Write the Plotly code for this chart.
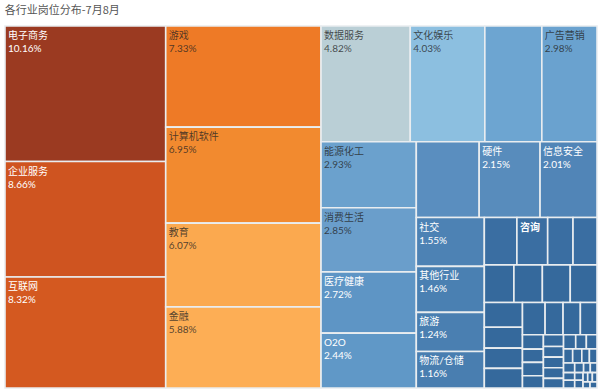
import plotly.graph_objects as go

# ---- data ----
industries = [
    "电子商务", "企业服务", "互联网", "游戏", "计算机软件", "教育", "金融",
    "数据服务", "文化娱乐", "行业A", "广告营销", "能源化工", "消费生活", "医疗健康", "O2O",
    "行业B", "硬件", "信息安全", "社交", "其他行业", "旅游", "物流/仓储",
]
shares = [
    10.16, 8.66, 8.32, 7.33, 6.95, 6.07, 5.88,
    4.82, 4.03, 3.08, 2.98, 2.93, 2.85, 2.72, 2.44,
    2.22, 2.15, 2.01, 1.55, 1.46, 1.24, 1.16,
]
# small industries (labels hidden in the reference except 咨询)
tail_names = ["行业C", "咨询"] + ["行业%d" % i for i in range(1, 44)]
tail_shares = [
    0.72, 0.68, 0.56, 0.53,
    0.52, 0.50, 0.49, 0.47, 0.44,
    0.37, 0.36, 0.35, 0.34,
    0.27, 0.26, 0.25,
    0.14, 0.13, 0.13, 0.12,
    0.11, 0.10, 0.10, 0.10,
    0.09, 0.08, 0.07, 0.07, 0.06, 0.06, 0.05, 0.05, 0.05,
    0.04, 0.04, 0.04, 0.03, 0.03, 0.03, 0.03,
    0.02, 0.02, 0.02, 0.02, 0.02,
]
tail_names = tail_names[:len(tail_shares)]
labeled_tail = {"咨询"}
hidden_main = {"行业A", "行业B"}

# ---- styles ----
main_colors = [
    "#9B3A21", "#CF5420", "#D45920", "#EE7A26", "#F28A2F", "#FBA94F", "#FDAE55",
    "#BACFD6", "#8CBFE0", "#6DA5D1", "#6AA2CF", "#6BA1CD", "#6A9ECB", "#5E95C5", "#6098C7",
    "#5A8EBF", "#588CBC", "#5185B7", "#4D82B4", "#4A80B2", "#4A7FB1", "#497EB0",
]
dark_text = {"游戏", "计算机软件", "教育", "金融", "数据服务", "文化娱乐", "广告营销", "能源化工", "消费生活"}

labels = industries + tail_names
values = shares + tail_shares
colors = main_colors + ["#3A6EA2"] * 4 + ["#35699C"] * (len(tail_shares) - 4)

templates = []
text_colors = []
for name in labels:
    if name in hidden_main or (name in tail_names and name not in labeled_tail):
        templates.append(" ")
    elif name in labeled_tail:
        templates.append("<b>%{label}</b>")
    else:
        templates.append("%{label}<br>%{value:.2f}%")
    text_colors.append("rgba(35,35,35,0.78)" if name in dark_text else "#ffffff")

fig = go.Figure(go.Treemap(
    labels=labels,
    parents=[""] * len(labels),
    values=values,
    sort=True,
    texttemplate=templates,
    textposition="top left",
    textfont=dict(family="Lato, 'Noto Sans CJK SC'", size=10, color=text_colors),
    marker=dict(colors=colors, line=dict(color="#e9edf0", width=1.6), pad=dict(t=0, l=0, r=0, b=0)),
    tiling=dict(packing="squarify", squarifyratio=1.618, pad=0),
    pathbar=dict(visible=False),
    hoverinfo="label+value",
))

fig.update_layout(
    width=600, height=392,
    margin=dict(l=5, r=3, t=26, b=4),
    paper_bgcolor="white",
    title=dict(text="各行业岗位分布-7月8月", x=0.008, xanchor="left", y=0.985, yanchor="top",
               font=dict(family="Noto Sans CJK SC", size=11, color="#555555")),
    uniformtext=dict(minsize=9, mode="hide"),
)

fig.write_html("out.html", config={"displayModeBar": False},
               post_script="document.body.style.margin='0';document.body.style.overflow='hidden';")
